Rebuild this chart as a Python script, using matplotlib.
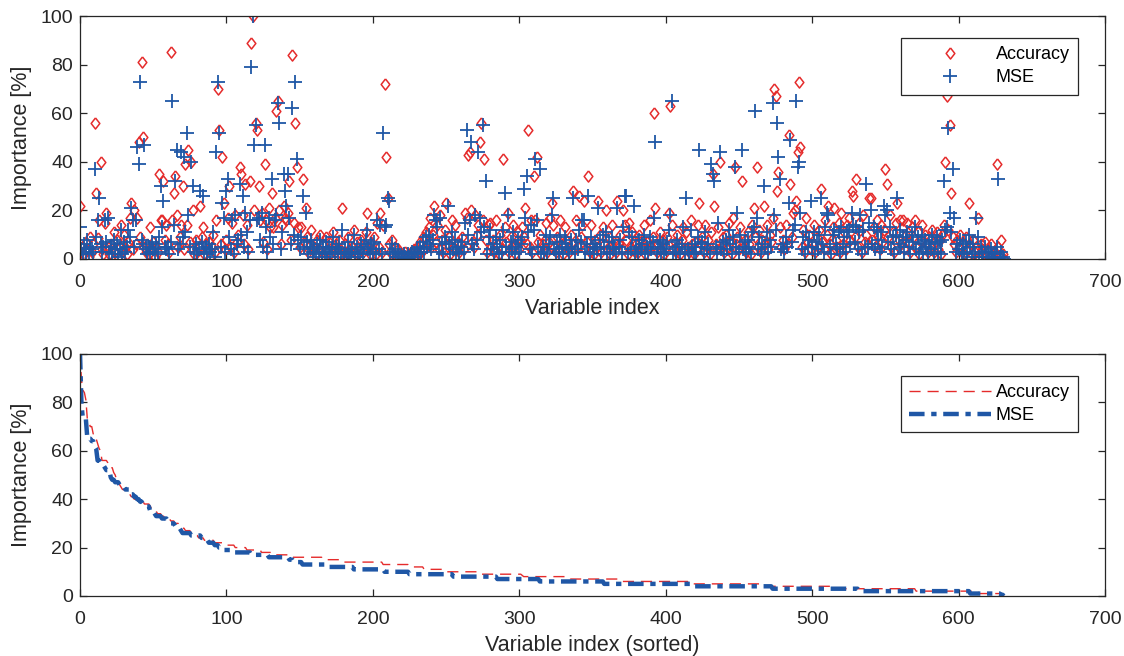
import numpy as np
import matplotlib
matplotlib.use("Agg")
import matplotlib.pyplot as plt

# importance per variable, 632 variables
accuracy = [
    22, 3, 5, 2, 7, 4, 1, 9, 3, 6, 56, 27, 8.5, 16, 40, 4, 2, 15, 19, 5,
    2, 6, 4, 11, 3, 8, 1, 5, 14, 3, 10, 5, 2, 7, 17, 23, 4, 20, 6, 17,
    48, 9, 81, 50, 5, 3, 6, 2, 13, 4, 7, 1, 5, 3, 35, 16, 16, 32, 8, 14,
    6, 3, 85, 16, 27, 34, 18, 5, 9, 14, 30, 4, 39, 14, 45, 7, 40, 20, 2, 8,
    3, 5, 22, 9, 13, 2, 6, 4, 7, 1, 5, 10, 3, 16, 70, 53, 6, 42, 23, 4,
    8, 17, 30, 5, 15, 3, 18, 7, 10, 38, 35, 18, 6, 31, 14, 4, 32, 89, 100, 20,
    56, 53, 30, 16, 19, 7, 39, 16, 4, 21, 13, 27, 13, 17, 61, 65, 20, 6, 14, 22,
    17, 16, 19, 32, 8, 84, 15, 56, 38, 13, 5, 13, 33, 7, 21, 9, 3, 6, 12, 4,
    5, 2, 8, 4, 10, 3, 6, 1, 9, 4, 7, 2, 5, 11, 3, 6, 4, 8, 2, 21,
    3, 6, 2, 9, 4, 1, 5, 12, 3, 7, 2, 4, 8, 3, 6, 11, 19, 5, 2, 7,
    4, 9, 2, 15, 5, 19, 3, 14, 72, 42, 25, 6, 3, 8, 2, 5, 1, 4, 2, 1,
    2, 1, 3, 0.5, 2, 1, 3, 2, 4, 1, 5, 2, 7, 3, 9, 4, 11, 6, 13, 17,
    5, 10, 22, 7, 14, 4, 18, 8, 3, 12, 23, 6, 9, 2, 16, 5, 14, 4, 7, 3,
    6, 9, 4, 19, 17, 43, 44, 20, 7, 5, 18, 10, 14, 48, 56, 16, 41, 8, 3, 14,
    15, 5, 8, 3, 16, 6, 2, 10, 4, 41, 13, 7, 19, 3, 9, 5, 14, 2, 6, 11,
    4, 8, 13, 9, 21, 6, 53, 5, 16, 3, 34, 16, 42, 7, 10, 2, 6, 4, 15, 3,
    7, 17, 23, 14, 5, 3, 9, 4, 16, 6, 2, 13, 8, 5, 3, 10, 6, 28, 4, 16,
    5, 26, 9, 14, 24, 4, 7, 34, 3, 14, 6, 2, 8, 5, 24, 10, 3, 13, 6, 20,
    4, 9, 2, 14, 5, 7, 3, 24, 6, 10, 4, 20, 14, 8, 2, 15, 5, 11, 7, 3,
    6, 3, 10, 5, 8, 14, 2, 7, 4, 16, 5, 9, 60, 21, 3, 6, 11, 4, 8, 2,
    5, 9, 19, 63, 14, 4, 7, 3, 10, 6, 2, 8, 13, 4, 11, 5, 3, 16, 6, 2,
    7, 4, 14, 23, 6, 9, 3, 14, 5, 8, 2, 11, 35, 22, 6, 4, 13, 40, 5, 9,
    3, 10, 5, 15, 7, 2, 17, 38, 6, 9, 4, 13, 32, 5, 8, 3, 11, 6, 2, 14,
    21, 9, 38, 5, 12, 3, 8, 22, 6, 14, 4, 10, 7, 17, 70, 67, 28, 36, 13, 5,
    8, 4, 14, 6, 51, 31, 9, 19, 20, 24, 44, 73, 46, 5, 12, 3, 17, 7, 10, 4,
    6, 14, 3, 9, 5, 12, 29, 7, 4, 16, 10, 22, 6, 2, 13, 21, 8, 5, 15, 3,
    19, 6, 11, 4, 14, 17, 8, 28, 26, 9, 33, 5, 15, 12, 3, 18, 7, 10, 6, 25,
    25, 8, 13, 5, 16, 10, 4, 14, 7, 12, 37, 31, 9, 18, 5, 11, 3, 15, 23, 8,
    16, 6, 16, 4, 10, 15, 7, 3, 13, 9, 16, 5, 11, 2, 8, 14, 4, 10, 6, 3,
    9, 5, 12, 3, 7, 11, 4, 8, 2, 10, 14, 40, 67, 12, 55, 27, 9, 6, 3, 8,
    5, 10, 3, 7, 2, 9, 4, 23, 6, 2, 8, 3, 5, 17, 1, 6, 4, 2, 7, 1,
    4, 1, 6, 2, 0.5, 3, 39, 5, 1, 8, 2, 0,
]

mse = [
    13, 4, 2, 6, 3, 8, 2, 5, 4, 3, 37, 9, 16, 25, 6, 3, 5, 16, 7, 17,
    3, 5, 2, 8, 4, 6, 1, 4, 12, 2, 7, 3, 5, 12, 9, 21, 16, 5, 16, 46,
    39, 73, 8, 6, 47, 4, 2, 5, 3, 7, 4, 2, 6, 3, 9, 30, 13, 24, 5, 4,
    5, 2, 7, 65, 14, 32, 45, 4, 6, 44, 9, 42, 11, 52, 18, 5, 40, 30, 3, 6,
    2, 4, 28, 7, 26, 3, 5, 2, 6, 3, 4, 11, 1, 44, 73, 52, 5, 23, 17, 3,
    28, 33, 9, 4, 16, 2, 18, 6, 8, 31, 10, 26, 5, 19, 11, 3, 16, 79, 100, 47,
    55, 16, 17, 8, 19, 5, 47, 13, 3, 17, 9, 33, 6, 16, 18, 64, 56, 4, 11, 35,
    28, 22, 35, 17, 6, 62, 10, 73, 41, 8, 4, 9, 26, 5, 19, 7, 2, 5, 8, 3,
    4, 1, 6, 3, 8, 2, 5, 2, 7, 3, 5, 1, 4, 9, 2, 5, 3, 6, 2, 12,
    2, 4, 1, 7, 3, 2, 4, 10, 2, 5, 1, 3, 6, 2, 5, 8, 12, 4, 2, 6,
    3, 7, 2, 16, 4, 14, 2, 52, 13, 14, 25, 24, 3, 6, 2, 4, 1, 3, 1, 1,
    1, 2, 1, 0.5, 2, 1, 2, 3, 1, 2, 4, 2, 5, 3, 7, 3, 9, 5, 10, 6,
    4, 8, 18, 16, 13, 3, 17, 6, 2, 9, 7, 22, 6, 2, 11, 4, 8, 3, 5, 2,
    5, 7, 3, 15, 53, 10, 16, 48, 6, 4, 18, 8, 44, 17, 11, 55, 13, 32, 2, 9,
    12, 4, 6, 2, 9, 5, 2, 8, 3, 12, 27, 5, 18, 3, 7, 4, 11, 2, 5, 8,
    3, 6, 9, 29, 17, 34, 11, 4, 14, 2, 12, 41, 16, 5, 37, 2, 5, 3, 10, 2,
    6, 9, 18, 25, 4, 2, 7, 3, 10, 5, 2, 9, 6, 4, 2, 8, 5, 25, 3, 8,
    4, 12, 7, 16, 16, 3, 6, 26, 2, 9, 5, 2, 6, 4, 21, 8, 2, 10, 5, 11,
    3, 7, 2, 9, 4, 5, 2, 21, 5, 8, 3, 13, 26, 26, 2, 11, 4, 9, 22, 3,
    5, 2, 8, 4, 6, 10, 2, 5, 3, 9, 4, 7, 17, 48, 2, 5, 8, 3, 6, 2,
    4, 7, 12, 18, 65, 3, 5, 2, 8, 5, 2, 6, 13, 3, 25, 4, 2, 12, 5, 2,
    6, 3, 9, 45, 5, 7, 2, 11, 4, 6, 2, 39, 35, 32, 5, 3, 15, 44, 4, 7,
    2, 8, 4, 12, 6, 2, 9, 38, 5, 19, 3, 10, 45, 4, 7, 3, 8, 5, 2, 11,
    13, 61, 17, 4, 9, 2, 6, 30, 5, 11, 3, 8, 5, 64, 18, 12, 56, 42, 33, 4,
    6, 3, 9, 5, 23, 49, 7, 12, 14, 65, 38, 40, 19, 4, 9, 2, 11, 5, 8, 24,
    5, 11, 2, 7, 4, 10, 25, 6, 3, 13, 19, 18, 5, 2, 10, 12, 6, 4, 11, 2,
    13, 5, 9, 3, 11, 12, 6, 19, 14, 7, 13, 4, 11, 18, 2, 12, 5, 31, 5, 15,
    20, 6, 13, 4, 12, 8, 3, 11, 5, 22, 18, 20, 7, 13, 4, 9, 2, 10, 25, 6,
    12, 5, 9, 3, 8, 11, 5, 2, 10, 7, 13, 4, 9, 2, 6, 10, 3, 8, 5, 2,
    7, 4, 10, 2, 6, 9, 3, 7, 2, 8, 32, 12, 13, 54, 19, 11, 37, 17, 3, 6,
    4, 8, 2, 6, 2, 7, 3, 10, 5, 1, 6, 2, 17, 9, 1, 5, 3, 1, 5, 1,
    3, 1, 4, 1, 0.5, 2, 5, 33, 1, 3, 1, 0,
]

acc = np.array(accuracy, dtype=float)
ms = np.array(mse, dtype=float)
idx = np.arange(len(acc))

red = "#e52b2b"
blue = "#1f57a6"
grey = "#262626"
diamond = [(0, 1), (0.78, 0), (0, -1), (-0.78, 0), (0, 1)]

plt.rcParams["font.family"] = ["Liberation Sans", "DejaVu Sans"]
fig = plt.figure(figsize=(11.24, 6.56), dpi=100)
ax1 = fig.add_axes([0.0712, 0.6052, 0.9119, 0.3704])
ax2 = fig.add_axes([0.0712, 0.0915, 0.9119, 0.3689])

ax1.plot(idx, acc, linestyle="none", marker=diamond, markersize=8,
         markerfacecolor="none", markeredgecolor=red, markeredgewidth=1.1,
         label="Accuracy")
ax1.plot(idx, ms, linestyle="none", marker="+", markersize=9.5,
         markeredgecolor=blue, markeredgewidth=1.3, label="MSE")
ax1.set_xlabel("Variable index", fontsize=15.5, color=grey, labelpad=5)

ax2.plot(idx, np.sort(acc)[::-1], color=red, linewidth=1.0,
         dashes=(8, 5), label="Accuracy")
ax2.plot(idx, np.sort(ms)[::-1], color=blue, linewidth=3.2,
         dashes=(3.5, 1.5, 1.2, 1.5), label="MSE")
ax2.set_xlabel("Variable index (sorted)", fontsize=15.5, color=grey, labelpad=5)

for ax in (ax1, ax2):
    ax.set_xlim(0, 700)
    ax.set_ylim(0, 100)
    ax.set_xticks(range(0, 701, 100))
    ax.set_yticks(range(0, 101, 20))
    ax.set_ylabel("Importance [%]", fontsize=15.5, color=grey, labelpad=6)
    ax.tick_params(direction="in", length=5, width=0.9, colors=grey,
                   labelsize=14, top=True, right=True)
    ax.tick_params(axis="x", pad=11)
    ax.tick_params(axis="y", pad=5)
    for s in ax.spines.values():
        s.set_color(grey)
        s.set_linewidth(0.9)
    leg = ax.legend(loc="upper right", bbox_to_anchor=(0.9737, 0.9095),
                    fontsize=13, fancybox=False, framealpha=1,
                    edgecolor=grey, borderpad=0.45, handlelength=4.5,
                    handletextpad=0.3, labelspacing=0.35, borderaxespad=0)
    leg.get_frame().set_linewidth(0.9)

fig.savefig("out.png", dpi=100)
